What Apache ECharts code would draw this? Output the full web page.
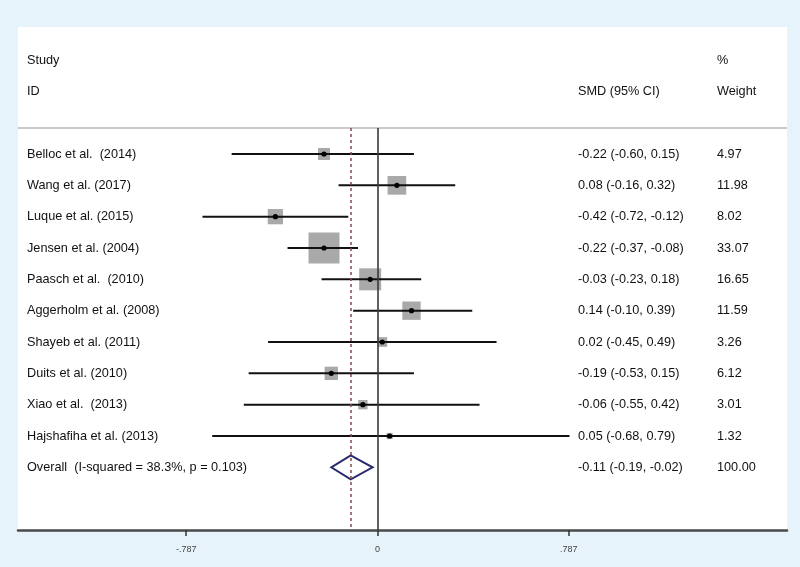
<!DOCTYPE html>
<html>
<head>
<meta charset="utf-8">
<script src="https://cdn.jsdelivr.net/npm/echarts@6/dist/echarts.min.js"></script>
<style>
  html, body { margin: 0; padding: 0; background: #e7f3fb; }
  #chart { width: 800px; height: 567px; }
</style>
</head>
<body>
<div id="chart"></div>
<script>
// ---- data ----
const studies = [
  "Belloc et al.  (2014)",
  "Wang et al. (2017)",
  "Luque et al. (2015)",
  "Jensen et al. (2004)",
  "Paasch et al.  (2010)",
  "Aggerholm et al. (2008)",
  "Shayeb et al. (2011)",
  "Duits et al. (2010)",
  "Xiao et al.  (2013)",
  "Hajshafiha et al. (2013)"
];
const smd     = [-0.22, 0.08, -0.42, -0.22, -0.03, 0.14, 0.02, -0.19, -0.06, 0.05];
const ciLower = [-0.60, -0.16, -0.72, -0.37, -0.23, -0.10, -0.45, -0.53, -0.55, -0.68];
const ciUpper = [0.15, 0.32, -0.12, -0.08, 0.18, 0.39, 0.49, 0.15, 0.42, 0.79];
const weights = [4.97, 11.98, 8.02, 33.07, 16.65, 11.59, 3.26, 6.12, 3.01, 1.32];

const overallLabel  = "Overall  (I-squared = 38.3%, p = 0.103)";
const overallSmd    = [-0.11];
const overallLower  = [-0.19];
const overallUpper  = [-0.02];
const overallWeight = [100.00];

const nullValue = [0];
const tickValues = [-0.787, 0, 0.787];
const tickLabels = ["-.787", "0", ".787"];

// ---- helpers ----
function fmt(v) { return v.toFixed(2); }
function ciText(e, l, u) { return fmt(e) + " (" + fmt(l) + ", " + fmt(u) + ")"; }

const FONT = '12.7px "Liberation Sans", Arial, sans-serif';
const TXT = '#111111';
const COL_NAME = 27, COL_CI = 578, COL_W = 717;

const studyData = studies.map((s, i) => [i, smd[i], ciLower[i], ciUpper[i], weights[i]]);
const overallData = overallSmd.map((e, i) => [studies.length + i, e, overallLower[i], overallUpper[i], overallWeight[i]]);

function textEl(str, x, y) {
  return { type: 'text', style: { text: str, x: x, y: y, font: FONT, fill: TXT, align: 'left', verticalAlign: 'middle' } };
}

const chart = echarts.init(document.getElementById('chart'), null, { renderer: 'canvas' });

const option = {
  backgroundColor: '#e7f3fb',
  animation: false,
  graphic: [
    { type: 'rect', z: -10, shape: { x: 18, y: 27, width: 769, height: 503 }, style: { fill: '#ffffff' } },
    { type: 'line', z: 1, shape: { x1: 18, y1: 128, x2: 787, y2: 128 }, style: { stroke: '#c9c9c9', lineWidth: 2 } },
    { type: 'text', z: 5, style: { text: 'Study', x: COL_NAME, y: 60, font: FONT, fill: TXT, verticalAlign: 'middle' } },
    { type: 'text', z: 5, style: { text: 'ID', x: COL_NAME, y: 91, font: FONT, fill: TXT, verticalAlign: 'middle' } },
    { type: 'text', z: 5, style: { text: 'SMD (95% CI)', x: COL_CI, y: 91, font: FONT, fill: TXT, verticalAlign: 'middle' } },
    { type: 'text', z: 5, style: { text: '%', x: COL_W, y: 60, font: FONT, fill: TXT, verticalAlign: 'middle' } },
    { type: 'text', z: 5, style: { text: 'Weight', x: COL_W, y: 91, font: FONT, fill: TXT, verticalAlign: 'middle' } }
  ],
  grid: { left: 18, right: 13, top: 128, bottom: 37, containLabel: false },
  xAxis: {
    type: 'value',
    min: -1.479,
    max: 1.685,
    axisLine: { show: true, onZero: false, lineStyle: { color: '#4a4a4a', width: 2.5 } },
    axisTick: { show: true, customValues: tickValues, length: 6, inside: false, lineStyle: { color: '#333', width: 1.5 } },
    axisLabel: {
      show: true, customValues: tickValues, margin: 15,
      fontSize: 9, color: '#444', fontFamily: '"Liberation Sans", Arial, sans-serif',
      formatter: function (v) { const i = tickValues.indexOf(v); return i >= 0 ? tickLabels[i] : ''; }
    },
    splitLine: { show: false }
  },
  yAxis: {
    type: 'value', inverse: true, min: -0.83, max: 12.0,
    show: false, splitLine: { show: false }
  },
  series: [
    {
      type: 'line', data: [], silent: true,
      markLine: {
        silent: true, symbol: 'none', label: { show: false },
        data: [
          { xAxis: nullValue[0], lineStyle: { color: '#3a3a3a', width: 1.6, type: 'solid' } },
          { xAxis: overallSmd[0], lineStyle: { color: '#8a4650', width: 1.5, type: [3, 3] } }
        ]
      },
      z: 1
    },
    {
      type: 'custom',
      data: studyData,
      encode: { x: [1, 2, 3], y: 0 },
      z: 3,
      renderItem: function (params, api) {
        const i = params.dataIndex;
        const row = api.value(0);
        const pc = api.coord([api.value(1), row]);
        const pl = api.coord([api.value(2), row]);
        const ph = api.coord([api.value(3), row]);
        const sz = 5.39 * Math.sqrt(api.value(4));
        return {
          type: 'group',
          children: [
            { type: 'rect', shape: { x: pc[0] - sz / 2, y: pc[1] - sz / 2, width: sz, height: sz }, style: { fill: '#a9a9a9' } },
            { type: 'line', shape: { x1: pl[0], y1: pl[1], x2: ph[0], y2: ph[1] }, style: { stroke: '#111', lineWidth: 2 } },
            { type: 'circle', shape: { cx: pc[0], cy: pc[1], r: 2.6 }, style: { fill: '#000' } },
            textEl(studies[i], COL_NAME, pc[1]),
            textEl(ciText(smd[i], ciLower[i], ciUpper[i]), COL_CI, pc[1]),
            textEl(weights[i].toFixed(2), COL_W, pc[1])
          ]
        };
      }
    },
    {
      type: 'custom',
      data: overallData,
      encode: { x: [1, 2, 3], y: 0 },
      z: 3,
      renderItem: function (params, api) {
        const i = params.dataIndex;
        const row = api.value(0);
        const pc = api.coord([api.value(1), row]);
        const pl = api.coord([api.value(2), row]);
        const ph = api.coord([api.value(3), row]);
        const h = 12;
        return {
          type: 'group',
          children: [
            { type: 'polygon', shape: { points: [[pl[0], pc[1]], [pc[0], pc[1] - h], [ph[0], pc[1]], [pc[0], pc[1] + h]] },
              style: { fill: 'none', stroke: '#2b2a6e', lineWidth: 2 } },
            textEl(overallLabel, COL_NAME, pc[1]),
            textEl(ciText(overallSmd[i], overallLower[i], overallUpper[i]), COL_CI, pc[1]),
            textEl(overallWeight[i].toFixed(2), COL_W, pc[1])
          ]
        };
      }
    }
  ]
};
chart.setOption(option);
</script>
</body>
</html>
